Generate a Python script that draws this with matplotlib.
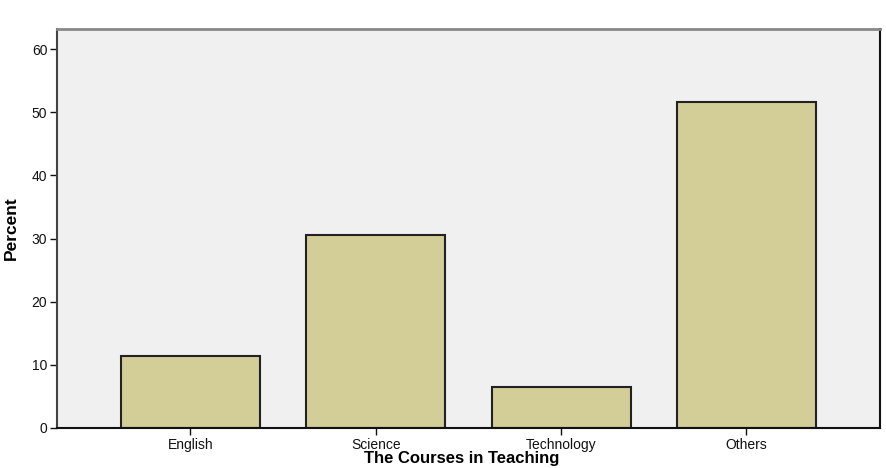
import matplotlib.pyplot as plt
import numpy as np

courses = ["English", "Science", "Technology", "Others"]
percent = [11.4, 30.5, 6.5, 51.6]
y_ticks = [0, 10, 20, 30, 40, 50, 60]

plt.rcParams['font.family'] = ['Liberation Sans', 'DejaVu Sans']

fig = plt.figure(figsize=(8.87, 4.68), dpi=100)
ax = fig.add_axes([0.0643, 0.0855, 0.9277, 0.8525])
ax.set_facecolor("#f0f0f0")

x = np.arange(len(courses))
ax.bar(x, percent, width=0.75, color="#d3ce97", edgecolor="#222222", linewidth=1.5, zorder=2)

ax.set_xlim(-0.72, 3.72)
ax.set_ylim(0, 63.2)
ax.set_xticks(x)
ax.set_xticklabels(courses, fontsize=10)
ax.set_yticks(y_ticks)
ax.set_yticklabels([str(t) for t in y_ticks], fontsize=10)
ax.tick_params(axis="both", length=5, width=1, colors="#111111", pad=2)

ax.spines["left"].set_color("#444444")
ax.spines["left"].set_linewidth(1.5)
ax.spines["top"].set_color("#888888")
ax.spines["top"].set_linewidth(2)
ax.spines["right"].set_color("#111111")
ax.spines["right"].set_linewidth(1.5)
ax.spines["bottom"].set_color("#111111")
ax.spines["bottom"].set_linewidth(1.5)

ax.set_ylabel("Percent", fontsize=12.5, fontweight="bold", labelpad=9)
# x-axis title sits right at the bottom edge, as in the original
fig.text(0.52, 0.004, "The Courses in Teaching", fontsize=12, fontweight="bold",
         ha="center", va="bottom")

fig.savefig("out.png", dpi=100)
